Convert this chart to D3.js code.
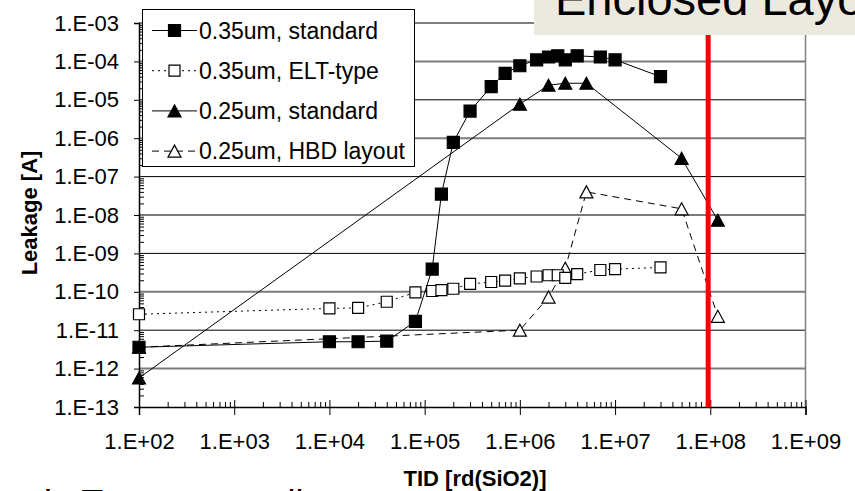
<!DOCTYPE html>
<html>
<head>
<meta charset="utf-8">
<script src="https://cdn.jsdelivr.net/npm/d3@7"></script>
<style>
  body { margin: 0; background: #fff; }
  svg { display: block; font-family: Arial, "Liberation Sans", sans-serif; }
</style>
</head>
<body>
<svg id="chart" width="855" height="491"></svg>
<script>
// series names
var seriesNames = ["0.35um, standard", "0.35um, ELT-type", "0.25um, standard", "0.25um, HBD layout"];

// 0.35um standard (filled squares)
var std35Dose = [1e2, 1e4, 2e4, 4e4, 8e4, 1.2e5, 1.5e5, 2e5, 3e5, 5e5, 7e5, 1e6, 1.5e6, 2e6, 2.5e6, 3e6, 4e6, 7e6, 1e7, 3e7];
var std35Leak = [3.6e-12, 5e-12, 5e-12, 5.2e-12, 1.7e-11, 3.9e-10, 3.5e-8, 7.8e-7, 5.1e-6, 2.2e-5, 4.9e-5, 7.7e-5, 1.1e-4, 1.3e-4, 1.4e-4, 1.1e-4, 1.4e-4, 1.3e-4, 1.1e-4, 4e-5];

// 0.35um ELT-type (open squares)
var elt35Dose = [1e2, 1e4, 2e4, 4e4, 8e4, 1.2e5, 1.5e5, 2e5, 3e5, 5e5, 7e5, 1e6, 1.5e6, 2e6, 2.5e6, 3e6, 4e6, 7e6, 1e7, 3e7];
var elt35Leak = [2.6e-11, 3.7e-11, 3.8e-11, 5.5e-11, 9.7e-11, 1.05e-10, 1.1e-10, 1.2e-10, 1.6e-10, 1.8e-10, 1.95e-10, 2.25e-10, 2.5e-10, 2.7e-10, 2.7e-10, 2.3e-10, 2.9e-10, 3.7e-10, 3.9e-10, 4.3e-10];

// 0.25um standard (filled triangles)
var std25Dose = [1e2, 1e6, 2e6, 3e6, 5e6, 5e7, 1.2e8];
var std25Leak = [5.7e-13, 7.7e-6, 2.4e-5, 2.7e-5, 2.7e-5, 3e-7, 7.3e-9];

// 0.25um HBD layout (open triangles)
var hbd25Dose = [1e2, 1e6, 2e6, 3e6, 5e6, 5e7, 1.2e8];
var hbd25Leak = [3.6e-12, 1e-11, 7.3e-11, 4.1e-10, 4e-8, 1.45e-8, 2.3e-11];

// axes
var xTickValues = [1e2, 1e3, 1e4, 1e5, 1e6, 1e7, 1e8, 1e9];
var xTickLabels = ["1.E+02", "1.E+03", "1.E+04", "1.E+05", "1.E+06", "1.E+07", "1.E+08", "1.E+09"];
var yTickValues = [1e-13, 1e-12, 1e-11, 1e-10, 1e-9, 1e-8, 1e-7, 1e-6, 1e-5, 1e-4, 1e-3];
var yTickLabels = ["1.E-13", "1.E-12", "1.E-11", "1.E-10", "1.E-09", "1.E-08", "1.E-07", "1.E-06", "1.E-05", "1.E-04", "1.E-03"];
var limitDose = 9.5e7;

var titleText = "Enclosed Layout";
var footerText = "in Test arrays all";

var svg = d3.select("#chart");

var x = d3.scaleLog().domain([1e2, 1e9]).range([139, 805.5]);
var y = d3.scaleLog().domain([1e-13, 1e-3]).range([407, 23]);

// minor tick values for log axes
function minors(scale) {
    var d = scale.domain(), out = [];
    var lo = Math.round(Math.log10(d[0])), hi = Math.round(Math.log10(d[1]));
    for (var e = lo; e < hi; e++) {
        for (var k = 2; k <= 9; k++) out.push(k * Math.pow(10, e));
    }
    return out;
}

// horizontal grid lines
svg.append("g")
    .selectAll("line")
    .data(yTickValues.slice(1))
    .enter()
    .append("line")
    .attr("x1", x(1e2))
    .attr("x2", x(1e9))
    .attr("y1", function(d) { return y(d); })
    .attr("y2", function(d) { return y(d); })
    .attr("stroke", function(d) { return Math.round(Math.log10(d)) % 2 === 0 ? "#7a7a7a" : "#000"; })
    .attr("stroke-width", function(d) { return Math.round(Math.log10(d)) % 2 === 0 ? 2 : 1; });

// right border
svg.append("line")
    .attr("x1", x(1e9)).attr("x2", x(1e9))
    .attr("y1", y(1e-3)).attr("y2", y(1e-13))
    .attr("stroke", "#808080").attr("stroke-width", 1.5);

// y axis
var yAxis = svg.append("g")
    .attr("transform", "translate(" + x(1e2) + ",0)")
    .call(d3.axisLeft(y).tickValues(yTickValues).tickSize(5).tickPadding(15)
        .tickFormat(function(d, i) { return yTickLabels[i]; }));
yAxis.select(".domain").attr("stroke", "#000").attr("stroke-width", 1.5);
yAxis.selectAll("text").attr("font-size", 22).attr("fill", "#000")
    .attr("font-family", "Arial, 'Liberation Sans', sans-serif");

svg.append("g")
    .attr("transform", "translate(" + x(1e2) + ",0)")
    .call(d3.axisLeft(y).tickValues(minors(y)).tickSize(-5).tickFormat(""))
    .select(".domain").remove();

// x axis
var xAxis = svg.append("g")
    .attr("transform", "translate(0," + y(1e-13) + ")")
    .call(d3.axisBottom(x).tickValues(xTickValues).tickSize(8).tickPadding(18)
        .tickFormat(function(d, i) { return xTickLabels[i]; }));
xAxis.select(".domain").attr("stroke", "#000").attr("stroke-width", 1.5);
xAxis.selectAll(".tick line").attr("y1", -7);
xAxis.selectAll("text").attr("font-size", 22).attr("fill", "#000")
    .attr("font-family", "Arial, 'Liberation Sans', sans-serif");

svg.append("g")
    .attr("transform", "translate(0," + y(1e-13) + ")")
    .call(d3.axisBottom(x).tickValues(minors(x)).tickSize(-5).tickFormat(""))
    .select(".domain").remove();

// axis titles
svg.append("text")
    .attr("transform", "translate(37," + ((y(1e-3) + y(1e-13)) / 2 - 2) + ") rotate(-90)")
    .attr("text-anchor", "middle")
    .attr("font-size", 22)
    .attr("font-weight", "bold")
    .text("Leakage [A]");

svg.append("text")
    .attr("x", 475)
    .attr("y", 486)
    .attr("text-anchor", "middle")
    .attr("font-size", 22)
    .attr("font-weight", "bold")
    .text("TID [rd(SiO2)]");

// marker shapes
function squarePath(s) {
    var h = s / 2;
    return "M" + (-h) + "," + (-h) + "H" + h + "V" + h + "H" + (-h) + "Z";
}
function trianglePath(w, h) {
    return "M0," + (-h / 2) + "L" + (w / 2) + "," + (h / 2) + "L" + (-w / 2) + "," + (h / 2) + "Z";
}

var series = [
    { name: seriesNames[3], dose: hbd25Dose, leak: hbd25Leak, dash: "7,5", shape: trianglePath(13, 12), fill: "#fff" },
    { name: seriesNames[2], dose: std25Dose, leak: std25Leak, dash: null, shape: trianglePath(13, 12), fill: "#000" },
    { name: seriesNames[1], dose: elt35Dose, leak: elt35Leak, dash: "2,4", shape: squarePath(11), fill: "#fff" },
    { name: seriesNames[0], dose: std35Dose, leak: std35Leak, dash: null, shape: squarePath(12), fill: "#000" }
];

var line = d3.line()
    .x(function(d) { return x(d[0]); })
    .y(function(d) { return y(d[1]); });

series.forEach(function(s) {
    var pts = s.dose.map(function(d, i) { return [d, s.leak[i]]; });
    svg.append("path")
        .datum(pts)
        .attr("d", line)
        .attr("fill", "none")
        .attr("stroke", "#000")
        .attr("stroke-width", 1)
        .attr("stroke-dasharray", s.dash);
    svg.append("g")
        .selectAll("path")
        .data(pts)
        .enter()
        .append("path")
        .attr("d", s.shape)
        .attr("transform", function(d) { return "translate(" + x(d[0]) + "," + y(d[1]) + ")"; })
        .attr("fill", s.fill)
        .attr("stroke", "#000")
        .attr("stroke-width", 1.2);
});

// legend
var legend = svg.append("g");
legend.append("rect")
    .attr("x", 142.5).attr("y", 9.5)
    .attr("width", 272).attr("height", 157)
    .attr("fill", "#fff").attr("stroke", "#000").attr("stroke-width", 1);

var legendOrder = [series[3], series[2], series[1], series[0]];
legendOrder.forEach(function(s, i) {
    var cy = 30.5 + i * 40.2;
    legend.append("line")
        .attr("x1", 152).attr("x2", 197)
        .attr("y1", cy).attr("y2", cy)
        .attr("stroke", "#000").attr("stroke-width", 1)
        .attr("stroke-dasharray", s.dash);
    legend.append("path")
        .attr("d", s.shape)
        .attr("transform", "translate(174.5," + cy + ")")
        .attr("fill", s.fill)
        .attr("stroke", "#000")
        .attr("stroke-width", 1.2);
    legend.append("text")
        .attr("x", 199).attr("y", cy + 8.2)
        .attr("font-size", 23)
        .text(s.name);
});

// red limit line
svg.append("line")
    .attr("x1", x(limitDose)).attr("x2", x(limitDose))
    .attr("y1", 30).attr("y2", y(1e-13))
    .attr("stroke", "#ff0000").attr("stroke-width", 5);

// slide title box
svg.append("rect")
    .attr("x", 534).attr("y", 0)
    .attr("width", 321).attr("height", 35)
    .attr("fill", "#ECE9DF");
svg.append("text")
    .attr("x", 555).attr("y", 15)
    .attr("font-size", 47)
    .attr("fill", "#000")
    .text(titleText);

// slide text cut off at bottom
svg.append("text")
    .attr("x", 44).attr("y", 516)
    .attr("font-size", 36)
    .attr("fill", "#000")
    .text(footerText);
</script>
</body>
</html>
